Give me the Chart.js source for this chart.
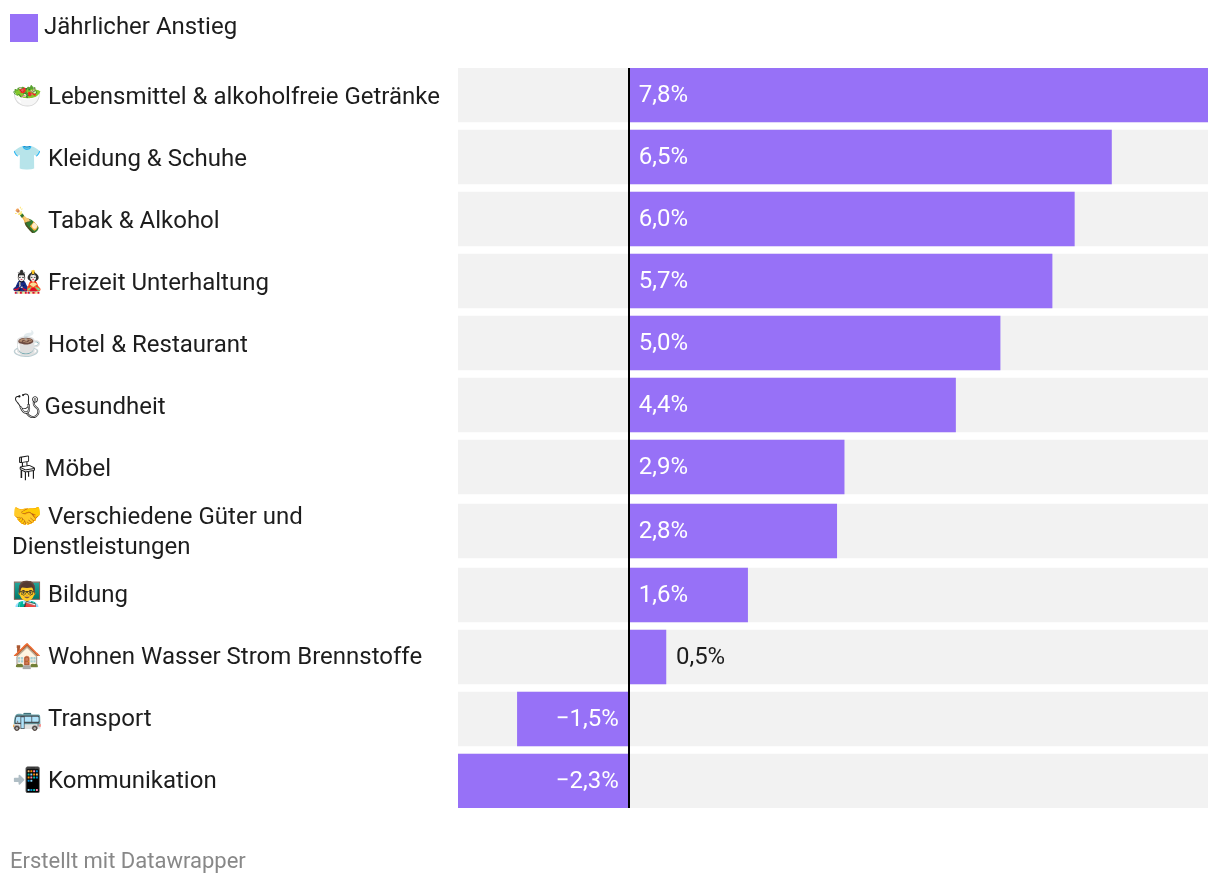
<!DOCTYPE html>
<html>
<head>
<meta charset="utf-8">
<title>Jährlicher Anstieg</title>
<script src="https://cdn.jsdelivr.net/npm/chart.js@4"></script>
<style>
  html, body { margin: 0; padding: 0; background: #fff; }
  #wrap { width: 1220px; height: 884px; }
</style>
</head>
<body>
<div id="wrap"><canvas id="chart"></canvas></div>
<script>
const categories = [
  '🥗 Lebensmittel & alkoholfreie Getränke',
  '👕 Kleidung & Schuhe',
  '🍾 Tabak & Alkohol',
  '🎎 Freizeit Unterhaltung',
  '☕ Hotel & Restaurant',
  '🩺\uFE0E\u200AGesundheit',
  '🪑\uFE0E\u200AMöbel',
  ['🤝 Verschiedene Güter und', 'Dienstleistungen'],
  '👨‍🏫 Bildung',
  '🏠 Wohnen Wasser Strom Brennstoffe',
  '🚌 Transport',
  '📲 Kommunikation'
];
const values = [7.8, 6.5, 6.0, 5.7, 5.0, 4.4, 2.9, 2.8, 1.6, 0.5, -1.5, -2.3];
const seriesName = 'Jährlicher Anstieg';
const footerText = 'Erstellt mit Datawrapper';

const purple = '#9771f7';
const track = '#f2f2f2';
const ink = '#1d1d1d';
const fontFamily = 'Roboto, sans-serif';

const domainMin = Math.min(...values);
const domainMax = Math.max(...values);
const wrappedRow = categories.findIndex(Array.isArray);

// rows are 62px apart, the wrapped label pushes its own row down a bit
function rowCenter(scale, i) {
  const extra = i < wrappedRow ? 0 : i === wrappedRow ? 2 : 4;
  return scale.top + 27 + 62 * i + extra;
}

// label offset from the bar centre differs above and below the wrapped row
function labelCenter(scale, i) {
  const nudge = i < wrappedRow ? 3 : i === wrappedRow ? 2 : 1;
  return rowCenter(scale, i) + nudge;
}

function formatValue(v) {
  return (v < 0 ? '−' : '') + Math.abs(v).toFixed(1).replace('.', ',') + '%';
}

const valueLabels = {
  id: 'valueLabels',
  beforeInit(chart) {
    // extra room under the legend
    const fit = chart.legend.fit;
    chart.legend.fit = function () {
      fit.call(this);
      this.height += 18;
    };
  },
  afterLayout(chart) {
    chart.scales.y.left = 12;
  },
  afterDatasetsDraw(chart) {
    const { ctx, scales } = chart;
    ctx.save();
    ctx.font = '24px ' + fontFamily;
    ctx.textBaseline = 'middle';
    values.forEach((v, i) => {
      const y = scales.y.getPixelForValue(i) + 1;
      const zero = scales.x.getPixelForValue(0);
      const end = scales.x.getPixelForValue(v);
      if (v < 0) {
        ctx.fillStyle = '#fff';
        ctx.textAlign = 'right';
        ctx.fillText(formatValue(v), zero - 10, y);
      } else if (end - zero > 60) {
        ctx.fillStyle = '#fff';
        ctx.textAlign = 'left';
        ctx.fillText(formatValue(v), zero + 10, y);
      } else {
        ctx.fillStyle = ink;
        ctx.textAlign = 'left';
        ctx.fillText(formatValue(v), end + 10, y);
      }
    });
    ctx.restore();
  }
};

new Chart(document.getElementById('chart'), {
  type: 'bar',
  data: {
    labels: categories,
    datasets: [
      {
        label: seriesName,
        data: values,
        backgroundColor: purple,
        barThickness: 54,
        grouped: false,
        order: 1
      },
      {
        label: 'track',
        data: values.map(() => [domainMin, domainMax]),
        backgroundColor: track,
        barThickness: 54,
        grouped: false,
        order: 2
      }
    ]
  },
  options: {
    indexAxis: 'y',
    responsive: true,
    maintainAspectRatio: false,
    animation: false,
    layout: { padding: { left: 10, right: 12, top: 10, bottom: 8 } },
    scales: {
      x: {
        min: domainMin,
        max: domainMax,
        ticks: { display: false, stepSize: 1 },
        border: { display: false },
        grid: {
          z: 1,
          drawTicks: false,
          lineWidth: 2,
          color: ctx => (ctx.tick && ctx.tick.value === 0 ? '#000' : 'transparent')
        }
      },
      y: {
        afterFit(scale) {
          scale.width = 448;
          scale.getPixelForValue = i => rowCenter(scale, i);
          scale.getPixelForTick = i => labelCenter(scale, i);
        },
        ticks: {
          autoSkip: false,
          crossAlign: 'far',
          padding: 0,
          color: ink,
          font: { family: fontFamily, size: 24, lineHeight: 1.25 }
        },
        border: { display: false },
        grid: { display: false, drawTicks: false }
      }
    },
    plugins: {
      legend: {
        position: 'top',
        align: 'start',
        labels: {
          boxWidth: 16,
          boxHeight: 16,
          padding: 6,
          color: ink,
          font: { family: fontFamily, size: 24 },
          // thick border makes the swatch 28px while keeping the text close to it
          generateLabels: () => [{
            text: seriesName,
            fillStyle: purple,
            strokeStyle: purple,
            lineWidth: 12,
            fontColor: ink,
            datasetIndex: 0
          }]
        }
      },
      title: {
        display: true,
        text: footerText,
        position: 'bottom',
        align: 'start',
        color: '#888',
        font: { family: fontFamily, size: 22, weight: 'normal' },
        padding: { top: 41.6, bottom: 0 }
      },
      tooltip: { enabled: false }
    }
  },
  plugins: [valueLabels]
});
</script>
</body>
</html>
